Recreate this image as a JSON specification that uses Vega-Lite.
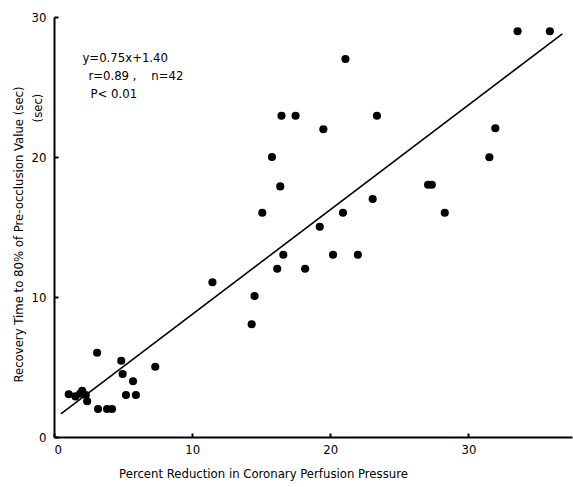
{
  "$schema": "https://vega.github.io/schema/vega-lite/v6.json",
  "width": 518,
  "height": 420,
  "autosize": "none",
  "padding": {"left": 54, "top": 17, "right": 1, "bottom": 50},
  "config": {
    "view": {"stroke": null},
    "font": "DejaVu Sans Condensed, Liberation Sans Narrow, sans-serif"
  },
  "datasets": {
    "pts": [
      {"x": 1.07, "y": 3.05}, {"x": 1.55, "y": 2.9}, {"x": 1.9, "y": 3.1}, {"x": 2.04, "y": 3.3},
      {"x": 2.3, "y": 3.0}, {"x": 2.4, "y": 2.55}, {"x": 3.12, "y": 6.02}, {"x": 3.19, "y": 2.0},
      {"x": 3.84, "y": 2.0}, {"x": 4.2, "y": 2.0}, {"x": 4.87, "y": 5.45}, {"x": 4.97, "y": 4.5},
      {"x": 5.72, "y": 3.98}, {"x": 5.21, "y": 3.0}, {"x": 5.93, "y": 3.0}, {"x": 7.33, "y": 5.02},
      {"x": 11.47, "y": 11.05}, {"x": 14.52, "y": 10.07}, {"x": 14.31, "y": 8.05}, {"x": 16.16, "y": 12.02},
      {"x": 16.6, "y": 13.02}, {"x": 18.18, "y": 12.02}, {"x": 20.2, "y": 13.02}, {"x": 22.0, "y": 13.02},
      {"x": 16.47, "y": 22.95}, {"x": 17.49, "y": 22.95}, {"x": 23.38, "y": 22.95}, {"x": 19.5, "y": 21.98},
      {"x": 15.78, "y": 20.0}, {"x": 16.38, "y": 17.9}, {"x": 15.08, "y": 16.02}, {"x": 20.92, "y": 16.02},
      {"x": 23.07, "y": 17.0}, {"x": 19.24, "y": 15.02}, {"x": 21.1, "y": 27.0}, {"x": 33.56, "y": 28.98},
      {"x": 35.9, "y": 28.98}, {"x": 31.95, "y": 22.05}, {"x": 31.52, "y": 19.98}, {"x": 27.08, "y": 18.02},
      {"x": 27.35, "y": 18.02}, {"x": 28.29, "y": 16.02}
    ],
    "fit": [{"x": 0.5, "y": 1.65}, {"x": 36.8, "y": 28.8}],
    "notes": [
      {"x": 2.06, "y": 27.1, "t": "y=0.75x+1.40"},
      {"x": 2.49, "y": 25.8, "t": "r=0.89 ,\u00a0\u00a0\u00a0\u00a0n=42"},
      {"x": 2.64, "y": 24.5, "t": "P< 0.01"}
    ],
    "sec": [{"x": -1.15, "y": 23.5, "t": "(sec)"}]
  },
  "layer": [
    {
      "data": {"name": "fit"},
      "mark": {"type": "line", "color": "black", "strokeWidth": 1.6},
      "encoding": {
        "x": {
          "field": "x", "type": "quantitative",
          "scale": {"domain": [0, 37.5], "nice": false},
          "axis": {
            "values": [0, 10, 20, 30], "grid": false,
            "domainColor": "black", "domainWidth": 2,
            "tickColor": "black", "tickWidth": 2, "tickSize": -4,
            "labelFontSize": 13, "labelColor": "black", "labelPadding": 10,
            "title": "Percent Reduction in Coronary Perfusion Pressure",
            "titleFontSize": 13, "titleFontWeight": "normal", "titleColor": "black",
            "titleX": 209, "titleY": 36, "titleBaseline": "middle"
          }
        },
        "y": {
          "field": "y", "type": "quantitative",
          "scale": {"domain": [0, 30], "nice": false},
          "axis": {
            "values": [0, 10, 20, 30], "grid": false,
            "domainColor": "black", "domainWidth": 2,
            "tickColor": "black", "tickWidth": 2, "tickSize": -4,
            "labelFontSize": 13, "labelColor": "black", "labelPadding": 12,
            "title": "Recovery Time to 80% of Pre-occlusion Value (sec)",
            "titleFontSize": 13, "titleFontWeight": "normal", "titleColor": "black",
            "titleX": -36, "titleY": 217, "titleBaseline": "middle", "titleAngle": -90
          }
        }
      }
    },
    {
      "data": {"name": "pts"},
      "mark": {"type": "circle", "color": "black", "opacity": 1, "size": 66},
      "encoding": {
        "x": {"field": "x", "type": "quantitative"},
        "y": {"field": "y", "type": "quantitative"}
      }
    },
    {
      "data": {"name": "notes"},
      "mark": {"type": "text", "align": "left", "baseline": "middle", "fontSize": 13, "color": "black"},
      "encoding": {
        "x": {"field": "x", "type": "quantitative"},
        "y": {"field": "y", "type": "quantitative"},
        "text": {"field": "t"}
      }
    },
    {
      "data": {"name": "sec"},
      "mark": {"type": "text", "align": "center", "baseline": "middle", "angle": -90, "fontSize": 13, "color": "black"},
      "encoding": {
        "x": {"field": "x", "type": "quantitative"},
        "y": {"field": "y", "type": "quantitative"},
        "text": {"field": "t"}
      }
    }
  ]
}
